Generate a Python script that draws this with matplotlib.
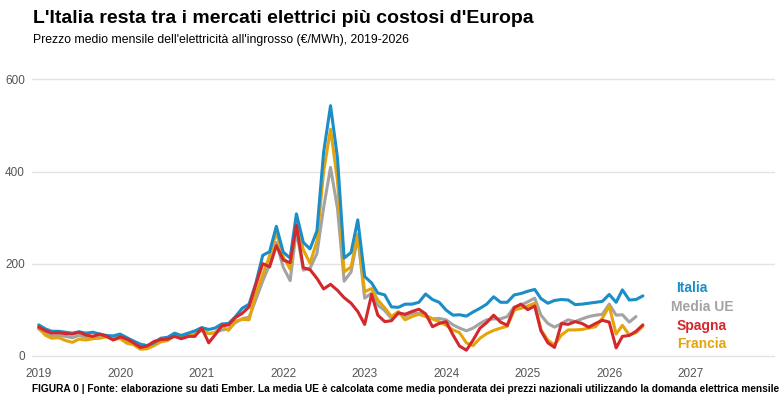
import numpy as np
import pandas as pd
import matplotlib
matplotlib.use("Agg")
import matplotlib.pyplot as plt
import matplotlib.dates as mdates

plt.rcParams['font.family'] = ['Liberation Sans', 'DejaVu Sans']

# monthly wholesale prices (EUR/MWh), Jan 2019 onwards
months = pd.date_range("2019-01-01", periods=90, freq="MS")
years = pd.date_range("2019-01-01", "2027-01-01", freq="YS")

italia = [
    67, 58, 53, 53, 51, 49, 52, 49, 51, 47, 44, 43,
    47, 39, 32, 25, 22, 28, 38, 40, 49, 44, 49, 54,
    61, 57, 60, 69, 70, 85, 103, 112, 159, 218, 226, 281,
    225, 212, 308, 246, 232, 271, 442, 543, 430, 212, 224, 295,
    172, 158, 136, 132, 106, 105, 112, 112, 116, 134, 122, 116,
    99, 88, 89, 86, 95, 103, 112, 128, 116, 116, 132, 135,
    140, 144, 124, 114, 120, 122, 121, 111, 112, 114, 116, 118,
    133, 116, 143, 121, 122, 130,
]
media_ue = [
    58, 48, 42, 44, 42, 39, 44, 40, 42, 42, 44, 38,
    40, 33, 28, 20, 19, 27, 33, 37, 44, 38, 42, 46,
    55, 48, 50, 56, 58, 72, 80, 84, 123, 162, 198, 246,
    192, 163, 273, 186, 190, 222, 322, 409, 320, 162, 182, 258,
    125, 136, 110, 98, 81, 92, 86, 92, 92, 88, 80, 81,
    78, 67, 60, 54, 60, 70, 78, 80, 80, 85, 106, 110,
    117, 125, 88, 70, 62, 70, 78, 74, 80, 85, 88, 90,
    112, 88, 89, 73, 85, np.nan,
]
spagna = [
    62, 54, 49, 50, 48, 47, 51, 45, 42, 47, 42, 34,
    41, 36, 28, 18, 21, 31, 35, 36, 42, 37, 42, 42,
    60, 28, 45, 65, 67, 83, 92, 106, 156, 200, 193, 239,
    208, 202, 283, 191, 187, 168, 145, 155, 142, 126, 114, 96,
    68, 133, 88, 74, 76, 93, 90, 96, 101, 91, 63, 70,
    74, 45, 21, 12, 34, 60, 72, 88, 73, 66, 104, 112,
    100, 108, 54, 28, 18, 70, 68, 74, 70, 62, 70, 77,
    73, 17, 42, 44, 53, 67,
]
francia = [
    60, 44, 38, 39, 33, 29, 36, 34, 37, 38, 41, 36,
    37, 27, 24, 14, 15, 22, 30, 33, 44, 38, 42, 47,
    59, 48, 50, 64, 55, 75, 79, 78, 135, 176, 217, 268,
    215, 188, 295, 230, 201, 249, 400, 492, 380, 182, 193, 264,
    139, 146, 121, 104, 85, 96, 78, 85, 90, 85, 80, 74,
    66, 56, 50, 28, 22, 38, 48, 55, 60, 64, 99, 103,
    108, 114, 56, 34, 23, 45, 56, 56, 57, 60, 63, 81,
    108, 47, 66, 45, 50, 64,
]

series = [
    ("Media UE", media_ue, "#a3a3a3"),
    ("Francia", francia, "#e5a50a"),
    ("Italia", italia, "#1b8dc7"),
    ("Spagna", spagna, "#d3282c"),
]

fig = plt.figure(figsize=(7.8, 4.05), dpi=100)
ax = fig.add_axes([32 / 780, 1 - 359.4 / 405, (775 - 32) / 780, (359.4 - 65.6) / 405])

for name, vals, col in series:
    ax.plot(months, vals, color=col, lw=2.2, solid_joinstyle="round", solid_capstyle="round")

t0 = pd.Timestamp("2019-01-01")
ax.set_xlim(t0 - pd.Timedelta(days=30), t0 + pd.Timedelta(days=3300))
ax.set_ylim(-8, 630)
ax.set_yticks([0, 200, 400, 600])
ax.set_xticks(years)
ax.xaxis.set_major_formatter(mdates.DateFormatter("%Y"))
ax.grid(axis="y", color="#e3e3e3", lw=1)
ax.set_axisbelow(True)
for s in ax.spines.values():
    s.set_visible(False)
ax.tick_params(length=0, labelsize=8.5, labelcolor="#555555")
ax.tick_params(axis="y", pad=5)
ax.tick_params(axis="x", pad=6)

# direct labels at the right
labels = [
    ("Italia", "#1b8dc7", 2928, 147),
    ("Media UE", "#a3a3a3", 2973, 106),
    ("Spagna", "#d3282c", 2973, 64),
    ("Francia", "#e5a50a", 2973, 25),
]
for txt, col, dx, yv in labels:
    ax.text(t0 + pd.Timedelta(days=dx), yv, txt, color=col, fontsize=10,
            fontweight="bold", ha="center", va="center")

fig.text(33 / 780, 1 - 22.7 / 405, "L'Italia resta tra i mercati elettrici più costosi d'Europa",
         fontsize=14, fontweight="bold", va="baseline", ha="left")
fig.text(33 / 780, 1 - 43.3 / 405,
         "Prezzo medio mensile dell'elettricità all'ingrosso (€/MWh), 2019-2026",
         fontsize=8.8, va="baseline", ha="left")
fig.text(32 / 780, 1 - 392 / 405,
         "FIGURA 0 | Fonte: elaborazione su dati Ember. La media UE è calcolata come media ponderata "
         "dei prezzi nazionali utilizzando la domanda elettrica mensile",
         fontsize=7.25, fontweight="bold", va="baseline", ha="left")

fig.savefig("out.png", dpi=100)
